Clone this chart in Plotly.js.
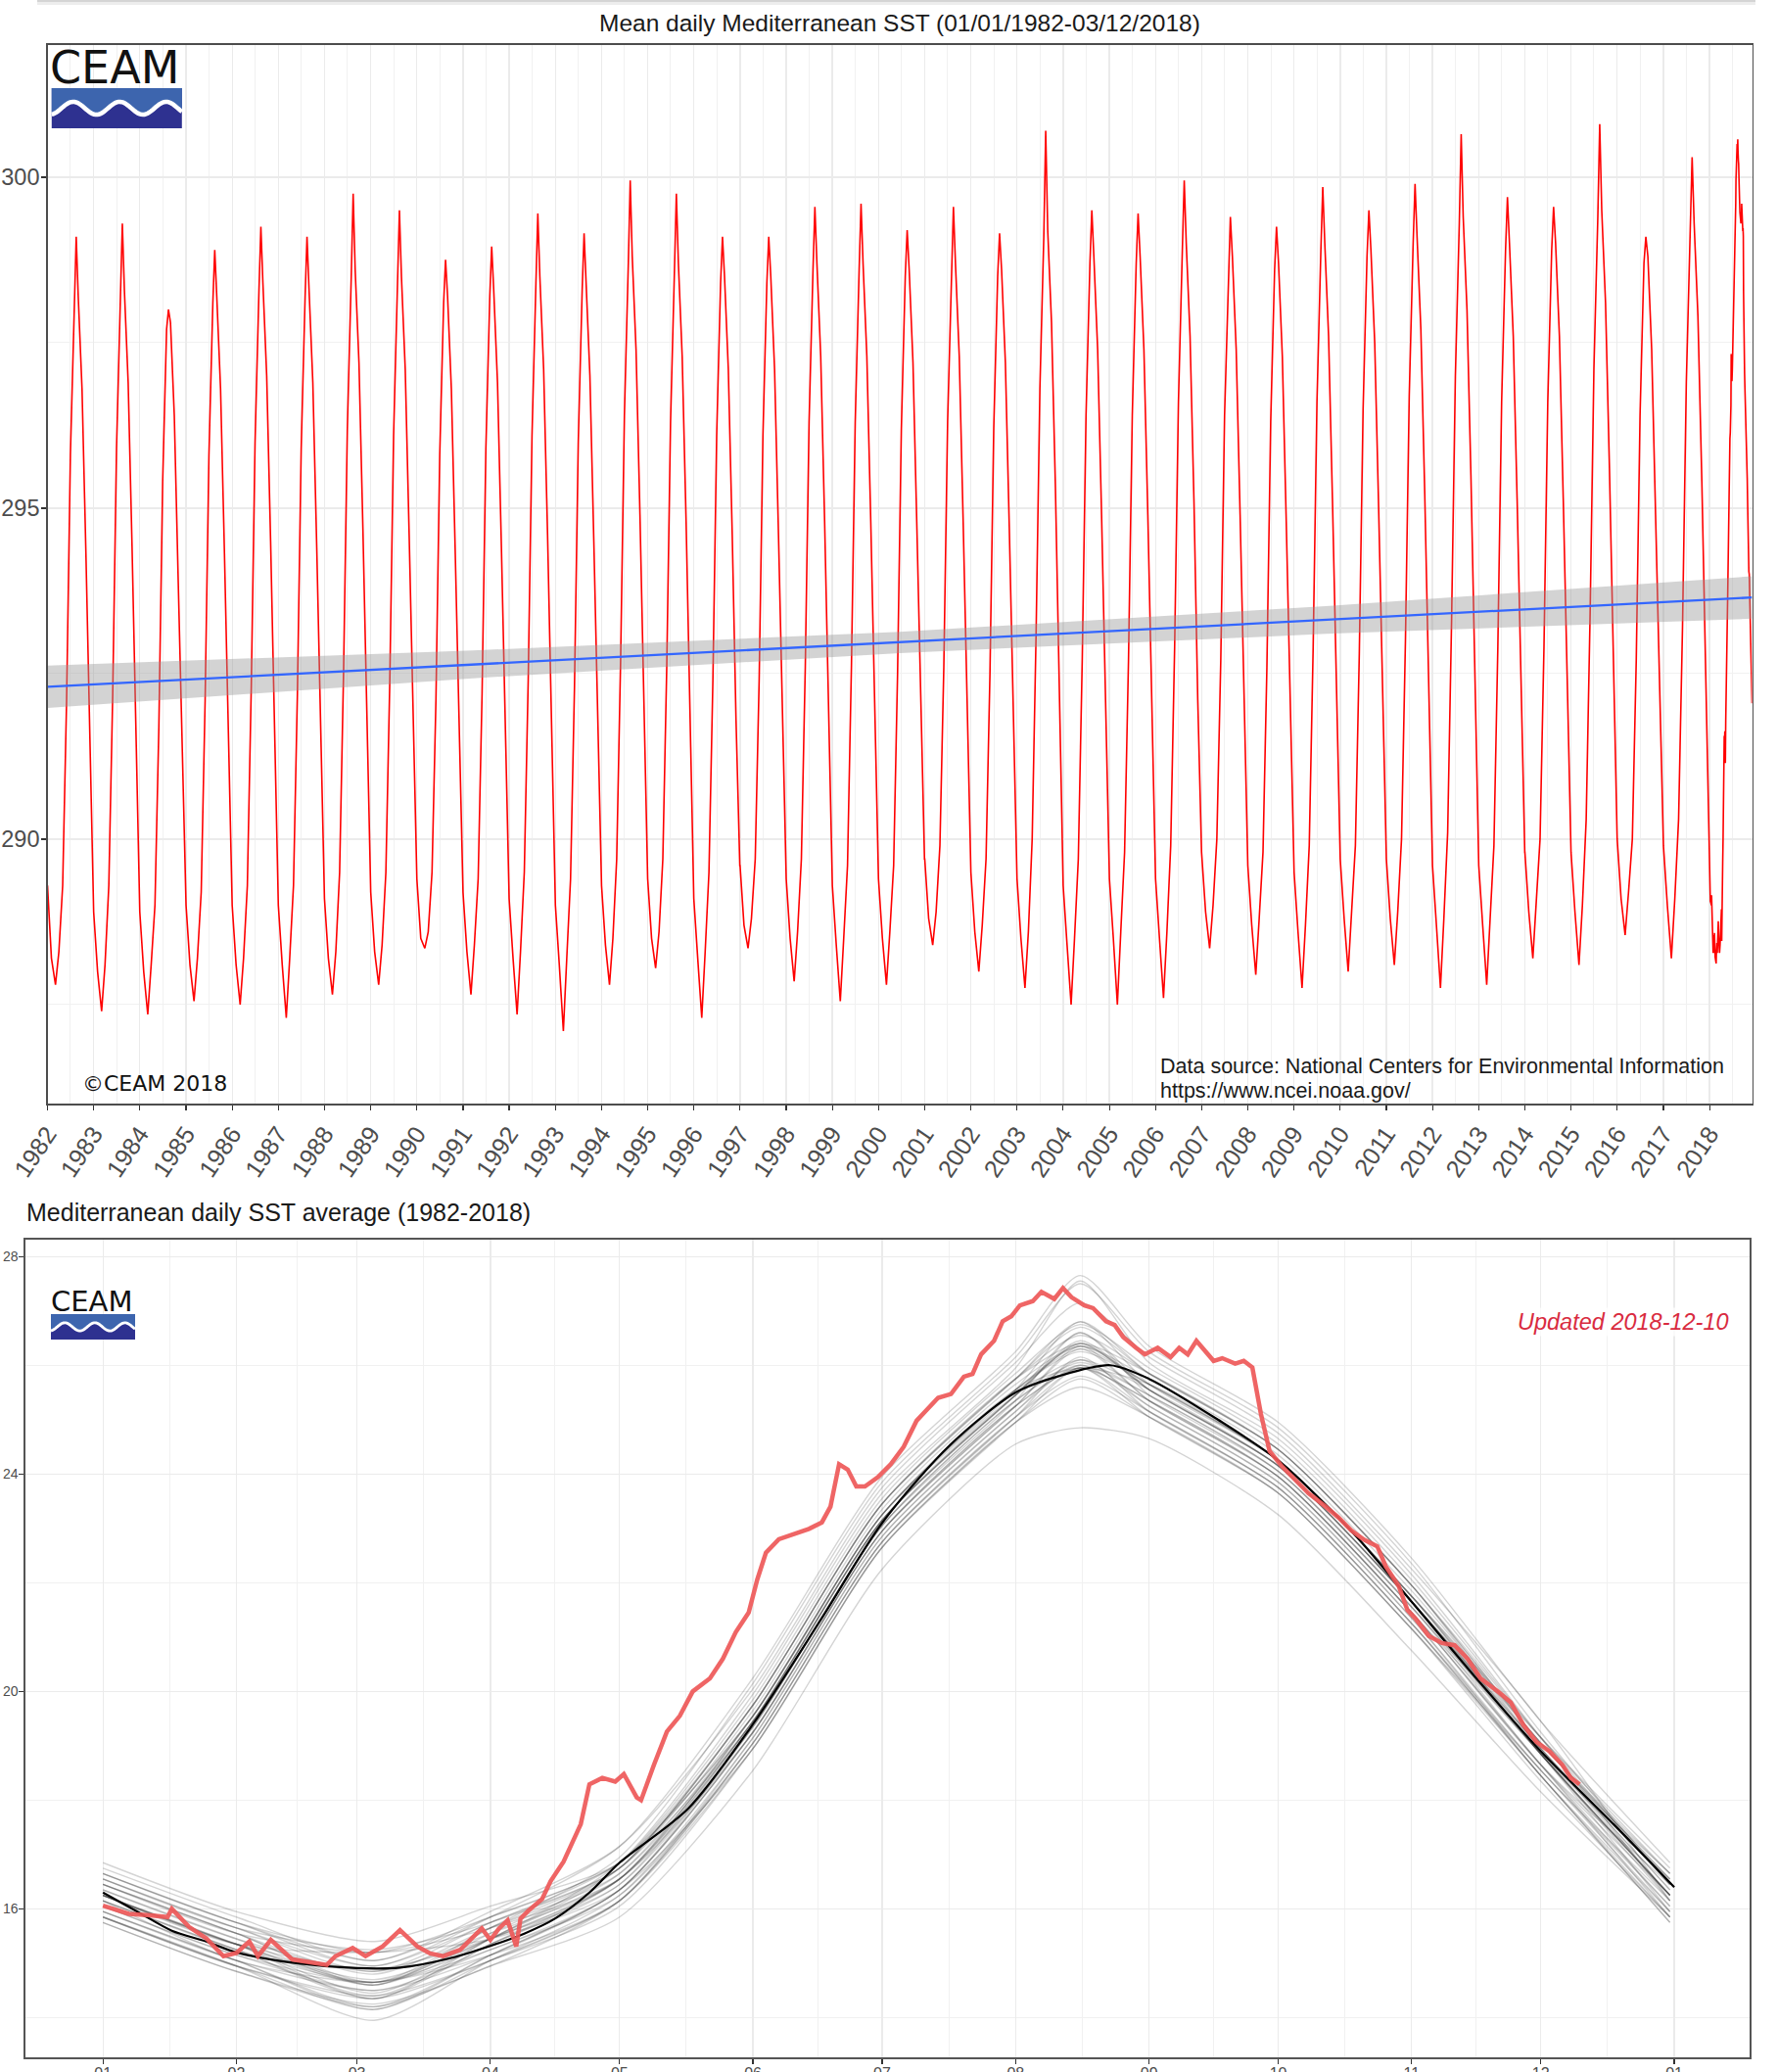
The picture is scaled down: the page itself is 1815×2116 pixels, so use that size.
<!DOCTYPE html>
<html><head><meta charset="utf-8">
<script src="https://cdn.plot.ly/plotly-3.0.1.min.js"></script>
<style>html,body{margin:0;padding:0;background:#fff;overflow:hidden}#chart{width:1815px;height:2116px}</style>
</head><body><div id="chart"></div>
<script>
// ---------------- DATA ----------------
// Years shown as individual seasonal cycles (top: Kelvin daily series, bottom: grey lines in Celsius)
const years = [1982,1983,1984,1985,1986,1987,1988,1989,1990,1991,1992,1993,1994,1995,1996,1997,1998,1999,
               2000,2001,2002,2003,2004,2005,2006,2007,2008,2009,2010,2011,2012,2013,2014,2015,2016,2017];
// day-of-year at which each yearly value was read
const sampleDoy = [1, 32, 64, 91, 121, 152, 182, 213, 228, 244, 274, 305, 335, 365];
// SST (K) read per year at sampleDoy
const yearlySstK = [
 [289.3,288.2,287.8,288.3,289.3,292.1,295.8,298.1,299.1,298.2,296.8,294.3,291.6,288.9],
 [288.9,288.0,287.4,288.1,289.3,292.2,295.9,298.2,299.3,298.3,296.9,294.4,291.6,288.9],
 [288.9,288.0,287.35,288.1,289.0,291.7,295.4,297.7,298.0,297.8,296.4,293.9,291.3,289.0],
 [289.0,288.1,287.55,288.2,289.2,292.1,295.8,298.1,298.9,298.2,296.8,294.3,291.5,289.0],
 [289.0,288.1,287.5,288.2,289.3,292.3,296.0,298.3,299.25,298.4,297.0,294.5,291.6,289.0],
 [289.0,288.1,287.3,288.2,289.3,292.2,295.9,298.2,299.1,298.3,296.9,294.4,291.6,289.1],
 [289.1,288.2,287.65,288.3,289.5,292.5,296.2,298.5,299.75,298.6,297.2,294.7,291.8,289.2],
 [289.2,288.3,287.8,288.4,289.5,292.4,296.1,298.4,299.5,298.5,297.1,294.6,291.8,289.4],
 [289.4,288.5,288.35,288.6,289.5,292.1,295.8,298.1,298.75,298.2,296.8,294.3,291.7,289.2],
 [289.2,288.3,287.65,288.4,289.4,292.2,295.9,298.2,298.95,298.3,296.9,294.4,291.7,289.1],
 [289.1,288.2,287.35,288.3,289.5,292.4,296.1,298.4,299.45,298.5,297.1,294.6,291.8,289.0],
 [289.0,288.1,287.1,288.2,289.4,292.3,296.0,298.3,299.15,298.4,297.0,294.5,291.7,289.3],
 [289.3,288.4,287.8,288.5,289.7,292.7,296.4,298.7,299.95,298.8,297.4,294.9,292.0,289.4],
 [289.4,288.5,288.05,288.6,289.7,292.6,296.3,298.6,299.75,298.7,297.3,294.8,292.0,289.1],
 [289.1,288.2,287.3,288.3,289.5,292.4,296.1,298.4,299.1,298.5,297.1,294.6,291.8,289.6],
 [289.6,288.7,288.35,288.8,289.7,292.4,296.1,298.4,299.1,298.5,297.1,294.6,292.0,289.4],
 [289.4,288.5,287.85,288.6,289.7,292.6,296.3,298.6,299.55,298.7,297.3,294.8,292.0,289.3],
 [289.3,288.4,287.55,288.5,289.6,292.6,296.3,298.6,299.6,298.7,297.3,294.8,292.0,289.4],
 [289.4,288.5,287.8,288.6,289.6,292.5,296.2,298.5,299.2,298.6,297.2,294.7,292.0,289.7],
 [289.7,288.8,288.4,288.9,289.9,292.6,296.3,298.6,299.55,298.7,297.3,294.8,292.1,289.5],
 [289.5,288.6,288.0,288.7,289.7,292.5,296.2,298.5,299.15,298.6,297.2,294.7,292.0,289.4],
 [289.4,288.5,287.75,288.6,290.0,293.1,296.8,299.1,300.7,299.2,297.8,295.3,292.3,289.3],
 [289.3,288.4,287.5,288.5,289.7,292.7,296.4,298.7,299.5,298.8,297.4,294.9,292.0,289.4],
 [289.4,288.5,287.5,288.6,289.8,292.7,296.4,298.7,299.45,298.8,297.4,294.9,292.1,289.4],
 [289.4,288.5,287.6,288.6,289.9,292.9,296.6,298.9,299.95,299.0,297.6,295.1,292.1,289.8],
 [289.8,288.9,288.35,289.0,290.0,292.7,296.4,298.7,299.4,298.8,297.4,294.9,292.2,289.6],
 [289.6,288.7,287.95,288.8,289.8,292.6,296.3,298.6,299.25,298.7,297.3,294.8,292.1,289.5],
 [289.5,288.6,287.75,288.7,289.9,292.9,296.6,298.9,299.85,299.0,297.6,295.1,292.2,289.7],
 [289.7,288.8,288.0,288.9,289.9,292.8,296.5,298.8,299.5,298.9,297.5,295.0,292.2,289.7],
 [289.7,288.8,288.1,288.9,290.0,293.0,296.7,299.0,299.9,299.1,297.7,295.2,292.3,289.6],
 [289.6,288.7,287.75,288.8,290.1,293.3,297.0,299.3,300.65,299.4,298.0,295.5,292.4,289.6],
 [289.6,288.7,287.8,288.8,289.9,292.9,296.6,298.9,299.7,299.0,297.6,295.1,292.2,289.8],
 [289.8,288.9,288.2,289.0,290.0,292.9,296.6,298.9,299.55,299.0,297.6,295.1,292.3,289.8],
 [289.8,288.9,288.1,289.0,290.3,293.4,297.1,299.4,300.8,299.5,298.1,295.6,292.6,290.0],
 [290.0,289.1,288.55,289.2,290.0,292.7,296.4,298.7,299.1,298.8,297.4,294.9,292.3,289.9],
 [289.9,289.0,288.2,289.1,290.3,293.2,296.9,299.2,300.3,299.3,297.9,295.4,292.6,289.3]
];
// 2018 (red line, Celsius)
const sst2018Doy = [1,7,12,16,17,21,25,29,32,35,37,40,45,50,53,55,59,62,66,70,74,77,80,84,89,91,93,95,97,98,
 100,103,105,108,112,114,117,120,122,125,126,129,132,135,138,142,145,148,151,153,155,158,162,165,168,170,172,174,176,178,
 181,184,187,190,192,195,198,201,203,205,208,210,212,214,217,219,222,224,226,229,231,234,236,238,241,243,246,249,251,253,
 255,257,259,261,264,266,268,270,272,275,278,281,285,288,291,294,297,299,302,304,306,309,312,315,318,321,325,328,331,334,
 337,340,342,344];
const sst2018C = [16.06,15.91,15.88,15.85,16.0,15.67,15.46,15.13,15.19,15.40,15.13,15.43,15.07,15.0,14.97,15.13,15.28,15.13,15.31,15.61,
 15.31,15.18,15.13,15.25,15.64,15.43,15.64,15.79,15.31,15.82,15.98,16.18,16.51,16.87,17.56,18.29,18.41,18.34,18.48,18.05,
 18.0,18.65,19.26,19.55,20.0,20.24,20.6,21.09,21.45,22.06,22.55,22.8,22.9,22.99,23.11,23.4,24.18,24.08,23.77,23.77,
 23.94,24.18,24.5,24.98,25.15,25.4,25.47,25.79,25.84,26.2,26.45,26.81,26.9,27.1,27.18,27.35,27.22,27.42,27.25,27.1,
 27.05,26.81,26.74,26.52,26.32,26.2,26.32,26.15,26.32,26.2,26.45,26.27,26.08,26.13,26.03,26.08,25.96,25.1,24.42,24.13,
 23.89,23.65,23.4,23.2,22.96,22.79,22.67,22.3,21.94,21.5,21.33,21.02,20.89,20.85,20.6,20.24,20.0,19.8,19.38,19.07,
 18.9,18.65,18.41,18.29];
const lastTopDoy2018 = 337;   // top series ends 03/12/2018
// 1982-2018 mean (black line, Celsius)
const meanDoy = [1,9,17,25,32,46,60,70,81,91,99,106,114,121,137,152,168,182,198,213,223,235,244,260,274,291,305,321,335,352,366];
const meanC = [16.3,15.95,15.6,15.4,15.2,15.0,14.91,14.92,15.08,15.32,15.55,15.82,16.3,16.85,17.85,19.4,21.35,23.1,24.55,25.5,
 25.8,26.0,25.75,25.0,24.25,22.95,21.65,20.15,18.9,17.55,16.4];
// linear trend with its confidence band (K)
const trendX = ['1982-01-01','2018-12-03'];
const trendY = [292.3, 293.65];
const bandX  = ['1982-01-01','1991-03-19','2000-06-17','2009-09-10','2018-12-03'];
const bandLo = [291.98, 292.43, 292.81, 293.10, 293.33];
const bandHi = [292.62, 292.85, 293.13, 293.52, 293.97];
// ticks
const topYTicks = [290, 295, 300];
const monthTickDoy = [1,32,60,91,121,152,182,213,244,274,305,335,366];
const monthTickText = ['01','02','03','04','05','06','07','08','09','10','11','12','01'];
const midMonthDoy = [16.5,46,75.5,106,136.5,167,197.5,228.5,259,289.5,320,350.5];
const botYTicks = [16, 20, 24, 28];

// ---------------- BUILD ----------------
const W = 1815, H = 2116;
const px = x => x / W;
const py = y => 1 - y / H;
function dateOf(year, doy){ return new Date(Date.UTC(year, 0, doy)).toISOString().slice(0,10); }
const K0 = 273.15;

const topX = [], topY = [];
years.forEach((yr, i) => sampleDoy.forEach((d, j) => { topX.push(dateOf(yr, d)); topY.push(yearlySstK[i][j]); }));
sst2018Doy.forEach((d, j) => { if (d <= lastTopDoy2018) { topX.push(dateOf(2018, d)); topY.push(sst2018C[j] + K0); } });

const traces = [];
traces.push({x: topX, y: topY, xaxis:'x', yaxis:'y', mode:'lines', line:{color:'#ff0000', width:1.6}, hoverinfo:'skip'});
traces.push({x: bandX, y: bandLo, xaxis:'x', yaxis:'y', mode:'lines', line:{width:0, color:'rgba(0,0,0,0)'}, hoverinfo:'skip'});
traces.push({x: bandX, y: bandHi, xaxis:'x', yaxis:'y', mode:'lines', line:{width:0, color:'rgba(0,0,0,0)'}, fill:'tonexty', fillcolor:'rgba(150,150,150,0.42)', hoverinfo:'skip'});
traces.push({x: trendX, y: trendY, xaxis:'x', yaxis:'y', mode:'lines', line:{color:'#3366ff', width:2.3}, hoverinfo:'skip'});

years.forEach((yr, i) => {
  traces.push({x: sampleDoy, y: yearlySstK[i].map(v => +(v - K0).toFixed(2)), xaxis:'x2', yaxis:'y2', mode:'lines',
    line:{color:'rgba(40,40,40,0.2)', width:1.4, shape:'spline', smoothing:0.7}, hoverinfo:'skip'});
});
traces.push({x: meanDoy, y: meanC, xaxis:'x2', yaxis:'y2', mode:'lines', line:{color:'#000', width:2.2, shape:'spline', smoothing:0.8}, hoverinfo:'skip'});
traces.push({x: sst2018Doy, y: sst2018C, xaxis:'x2', yaxis:'y2', mode:'lines', line:{color:'rgba(238,88,88,0.92)', width:4.5}, hoverinfo:'skip'});

// logo shapes
function logoShapes(x0, y0, w, h){
  const yc = y0 + 0.5*h, A = 0.16*h, per = 0.357*w, xc = x0 + 0.165*w;
  const pts = [];
  for (let i = 0; i <= 80; i++){ const x = x0 + w*i/80; pts.push([x, yc - A*Math.cos(2*Math.PI*(x - xc)/per)]); }
  const toP = p => px(p[0]).toFixed(5) + ',' + py(p[1]).toFixed(5);
  let blue = 'M' + toP([x0, y0]) + ' L' + toP([x0 + w, y0]);
  pts.slice().reverse().forEach(p => { blue += ' L' + toP(p); });
  blue += ' Z';
  let wave = 'M' + toP(pts[0]);
  pts.slice(1).forEach(p => { wave += ' L' + toP(p); });
  return [
    {type:'rect', xref:'paper', yref:'paper', x0:px(x0), x1:px(x0+w), y0:py(y0+h), y1:py(y0), fillcolor:'#2e3190', line:{width:0}, layer:'above'},
    {type:'path', xref:'paper', yref:'paper', path:blue, fillcolor:'#3d65ae', line:{width:0}, layer:'above'},
    {type:'path', xref:'paper', yref:'paper', path:wave, fillcolor:'rgba(0,0,0,0)', line:{color:'#ffffff', width:0.11*h}, layer:'above'}
  ];
}

const shapes = [
  {type:'rect', xref:'paper', yref:'paper', x0:px(38), x1:px(1793), y0:py(2), y1:py(0), fillcolor:'#d4d4d4', line:{width:0}},
  {type:'rect', xref:'paper', yref:'paper', x0:px(38), x1:px(1793), y0:py(5), y1:py(2), fillcolor:'#ededed', line:{width:0}}
].concat(logoShapes(52.8, 90, 133, 41)).concat(logoShapes(52, 1342, 86, 26));

const SANS = 'Liberation Sans, Arial, Helvetica, sans-serif';
const DEJA = 'DejaVu Sans, sans-serif';
const ann = (x, y, text, size, opts) => Object.assign({xref:'paper', yref:'paper', x:px(x), y:py(y), text:text, showarrow:false,
  xanchor:'left', yanchor:'middle', font:{family:SANS, size:size, color:'#1a1a1a'}}, opts || {});

const annotations = [
  ann(919, 23, 'Mean daily Mediterranean SST (01/01/1982-03/12/2018)', 24.5, {xanchor:'center'}),
  ann(49, 69, 'CEAM', 46, {font:{family:DEJA, size:46, color:'#111'}}),
  ann(82, 1106, '©CEAM 2018', 22, {font:{family:DEJA, size:22, color:'#111'}}),
  ann(1183, 1089, 'Data source: National Centers for Environmental Information', 21.5),
  ann(1183, 1114, 'https://www.ncei.noaa.gov/', 21.5),
  ann(25, 1238, 'Mediterranean daily SST average (1982-2018)', 25),
  ann(50, 1329, 'CEAM', 29, {font:{family:DEJA, size:29, color:'#111'}}),
  ann(1768, 1350, '<i>Updated 2018-12-10</i>', 23.5, {xanchor:'right', font:{family:SANS, size:23.5, color:'#d92b3f'}, bgcolor:'rgba(255,255,255,0.75)'})
];

const axCommon = {ticks:'outside', ticklen:5, tickwidth:1.2, tickcolor:'#333', showgrid:true, gridcolor:'#ebebeb', gridwidth:1.3,
  showline:true, mirror:true, zeroline:false, fixedrange:true};

const layout = {
  width:W, height:H, margin:{l:0, r:0, t:0, b:0}, paper_bgcolor:'#fff', plot_bgcolor:'#fff', showlegend:false, hovermode:false,
  font:{family:SANS, color:'#4d4d4d'},
  xaxis: Object.assign({}, axCommon, {domain:[px(48.5), px(1789.5)], anchor:'y', type:'date',
    range:['1981-12-31 18:00','2018-12-03'], tick0:'1982-01-01', dtick:'M12', tickformat:'%Y', tickangle:-56,
    tickfont:{family:SANS, size:25, color:'#4d4d4d'}, linecolor:'#4d4d4d', linewidth:1.3,
    minor:{dtick:'M6', tick0:'1982-01-01', showgrid:true, gridcolor:'#f1f1f1', gridwidth:1}}),
  yaxis: Object.assign({}, axCommon, {domain:[py(1127.3), py(45.7)], anchor:'x', range:[286, 302],
    tickmode:'array', tickvals:topYTicks, ticktext:topYTicks.map(String), ticklabelstandoff:-3,
    tickfont:{family:SANS, size:23.5, color:'#4d4d4d'}, linecolor:'#4d4d4d', linewidth:1.3,
    minor:{dtick:2.5, tick0:0, showgrid:true, gridcolor:'#f1f1f1', gridwidth:1}}),
  xaxis2: Object.assign({}, axCommon, {domain:[px(26), px(1787)], anchor:'y2', range:[-17, 383.5],
    tickmode:'array', tickvals:monthTickDoy, ticktext:monthTickText, ticklabelstandoff:-4,
    tickfont:{family:SANS, size:16, color:'#4d4d4d'}, linecolor:'#555', linewidth:1.6,
    minor:{tickmode:'array', tickvals:midMonthDoy, showgrid:true, gridcolor:'#f1f1f1', gridwidth:1}}),
  yaxis2: Object.assign({}, axCommon, {domain:[py(2101), py(1266)], anchor:'x2', range:[13.27, 28.31],
    tickmode:'array', tickvals:botYTicks, ticktext:botYTicks.map(String), ticklabelstandoff:-2,
    tickfont:{family:SANS, size:14, color:'#4d4d4d'}, linecolor:'#555', linewidth:1.6,
    minor:{dtick:2, tick0:0, showgrid:true, gridcolor:'#f1f1f1', gridwidth:1}}),
  shapes: shapes,
  annotations: annotations
};

Plotly.newPlot('chart', traces, layout, {staticPlot:true, displayModeBar:false});
</script>
</body></html>
